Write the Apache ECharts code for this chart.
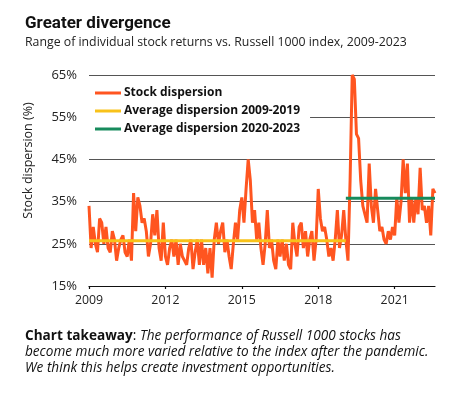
<!DOCTYPE html>
<html>
<head>
<meta charset="utf-8">
<script src="https://cdn.jsdelivr.net/npm/echarts@6/dist/echarts.min.js"></script>
<style>
html,body{margin:0;padding:0;background:#fff;}
#chart{width:463px;height:393px;}
</style>
</head>
<body>
<div id="chart"></div>
<script>
// Monthly stock dispersion (%) as drawn, starting Jan 2009 on the chart's axis
var startYear = 2009;
var dispersion = [
  34,24,29,25,23,31,30,25,29,24,23,28,26,21,24,26,27,23,22,26,
  21,37,28,36,34,30,31,28,22,25,32,27,33,24,21,30,22,20,24,26,
  22,26,20,25,22,21,20,24,26,19,23,26,20,26,20,24,18,24,17,26,
  30,25,28,30,23,26,22,19,25,30,26,33,36,30,38,45,40,30,33,26,
  30,24,20,25,33,24,26,21,19,26,22,26,21,25,20,19,30,25,22,29,
  30,24,28,22,26,28,21,26,38,31,28,29,26,22,24,21,26,33,24,27,
  33,26,21,40,65,64,51,50,40,34,32,30,44,34,30,38,33,28,29,26,
  25,28,26,29,27,36,30,35,45,37,44,30,36,30,36,32,43,33,34,30,
  34,27,38,37
];
var avgLabels = ['Average dispersion 2009-2019', 'Average dispersion 2020-2023'];
var avgValues = [25.7, 35.8];
var avgSplitIndex = 121;
var yTicks = [15, 25, 35, 45, 55, 65];
var xTickLabels = ['2009', '2012', '2015', '2018', '2021'];

var categories = dispersion.map(function (v, i) {
  var y = startYear + Math.floor(i / 12);
  var m = (i % 12) + 1;
  return y + '-' + (m < 10 ? '0' + m : m);
});
var avg1 = dispersion.map(function (v, i) { return i <= avgSplitIndex ? avgValues[0] : null; });
var avg2 = dispersion.map(function (v, i) { return i >= avgSplitIndex ? avgValues[1] : null; });

var FONT = '"Open Sans", sans-serif';
var chart = echarts.init(document.getElementById('chart'), null, {renderer: 'canvas'});
chart.setOption({
  backgroundColor: '#fff',
  animation: false,
  textStyle: {fontFamily: FONT},
  title: {
    text: 'Greater divergence',
    subtext: 'Range of individual stock returns vs. Russell 1000 index, 2009-2023',
    left: 20, top: 10, itemGap: 4,
    textStyle: {fontFamily: 'Roboto, sans-serif', fontSize: 17, fontWeight: 'bold', color: '#111'},
    subtextStyle: {fontFamily: FONT, fontSize: 12.3, color: '#222'}
  },
  legend: {
    left: 86, top: 82,
    orient: 'vertical',
    icon: 'rect', itemWidth: 26, itemHeight: 3, itemGap: 4,
    backgroundColor: '#fff',
    padding: [4, 10, 3, 9],
    textStyle: {fontFamily: FONT, fontSize: 12, fontWeight: 'bold', color: '#111', lineHeight: 14, padding: [0, 0, 0, -2]},
    data: ['Stock dispersion', avgLabels[0], avgLabels[1]]
  },
  grid: {left: 89, right: 28, top: 75, bottom: 107, containLabel: false},
  xAxis: {
    type: 'category',
    data: categories,
    boundaryGap: false,
    axisLine: {lineStyle: {color: '#111', width: 1.2}},
    axisTick: {interval: 35, length: 3, lineStyle: {color: '#111', width: 1.2}},
    axisLabel: {
      interval: 35, margin: 8, fontFamily: FONT, fontSize: 12.3, color: '#222',
      formatter: function (v) { return v.slice(0, 4); }
    },
    splitLine: {show: false}
  },
  yAxis: {
    type: 'value',
    min: yTicks[0], max: yTicks[yTicks.length - 1], interval: 10,
    name: 'Stock dispersion (%)',
    nameLocation: 'middle', nameGap: 54, nameRotate: 90,
    nameTextStyle: {fontFamily: FONT, fontSize: 12.5, color: '#222', padding: [0, 0, 0, 40]},
    axisLine: {show: false}, axisTick: {show: false},
    axisLabel: {margin: 12, fontFamily: FONT, fontSize: 13, color: '#222', formatter: '{value}%'},
    splitLine: {lineStyle: {color: '#555', width: 1}}
  },
  series: [
    {
      name: 'Stock dispersion', type: 'line', data: dispersion,
      showSymbol: false, symbol: 'none',
      lineStyle: {color: '#FF5520', width: 3}, itemStyle: {color: '#FF5520'}
    },
    {
      name: avgLabels[0], type: 'line', data: avg1,
      showSymbol: false, symbol: 'none',
      lineStyle: {color: '#F8C21A', width: 3}, itemStyle: {color: '#F8C21A'}
    },
    {
      name: avgLabels[1], type: 'line', data: avg2,
      showSymbol: false, symbol: 'none',
      lineStyle: {color: '#178B5C', width: 3}, itemStyle: {color: '#178B5C'}
    }
  ],
  graphic: [{
    type: 'text', left: 25, top: 329,
    style: {
      text: '{b|Chart takeaway}{n|: }{i|The performance of Russell 1000 stocks has}\n{i|become much more varied relative to the index after the pandemic.}\n{i|We think this helps create investment opportunities.}',
      rich: {
        b: {fontFamily: FONT, fontSize: 13.6, fontWeight: 'bold', fill: '#111', lineHeight: 16},
        n: {fontFamily: FONT, fontSize: 13.6, fill: '#111', lineHeight: 16},
        i: {fontFamily: FONT, fontSize: 13.6, fontStyle: 'italic', fill: '#111', lineHeight: 16}
      }
    }
  }]
});
</script>
</body>
</html>
